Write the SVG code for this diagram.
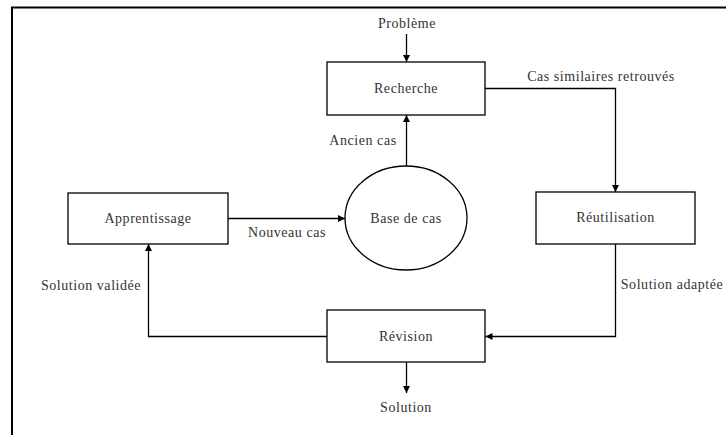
<svg xmlns="http://www.w3.org/2000/svg" width="726" height="435" viewBox="0 0 726 435">
<style>
.box{fill:#fff;stroke:#000;stroke-width:1.3}
.t{font-family:"Liberation Serif","Times New Roman",serif;font-size:14px;letter-spacing:0.55px;fill:#333}
.m{text-anchor:middle}
.c{fill:none;stroke:#000;stroke-width:1.3}
</style>
<defs>
<marker id="ah" viewBox="0 0 10 10" refX="10" refY="5" markerWidth="7" markerHeight="7" markerUnits="userSpaceOnUse" orient="auto">
<path d="M0,0 L10,5 L0,10 z" fill="#000"/>
</marker>
</defs>
<rect width="726" height="435" fill="#fff"/>
<path d="M12,435 V7.5 H726" fill="none" stroke="#000" stroke-width="2"/>
<g id="connectors">
<path class="c" d="M406.5,34 V62" marker-end="url(#ah)"/>
<path class="c" d="M485,88.5 H615.5 V192" marker-end="url(#ah)"/>
<path class="c" d="M406.5,166 V115" marker-end="url(#ah)"/>
<path class="c" d="M228,218.5 H345" marker-end="url(#ah)"/>
<path class="c" d="M615.5,244 V336.5 H485.5" marker-end="url(#ah)"/>
<path class="c" d="M327,336.5 H148.5 V244" marker-end="url(#ah)"/>
<path class="c" d="M406.5,362 V393" marker-end="url(#ah)"/>
<text class="t m" x="407" y="28">Problème</text>
<text class="t m" x="601" y="81">Cas similaires retrouvés</text>
<text class="t m" x="363" y="145">Ancien cas</text>
<text class="t m" x="287" y="237">Nouveau cas</text>
<text class="t m" x="91" y="290">Solution validée</text>
<text class="t m" x="672" y="289">Solution adaptée</text>
<text class="t m" x="406" y="412">Solution</text>
</g>
<g id="recherche">
<rect class="box" x="327" y="62" width="158" height="53"/>
<text class="t m" x="406" y="93">Recherche</text>
</g>
<g id="base">
<ellipse class="box" cx="406" cy="218" rx="61" ry="52"/>
<text class="t m" x="406" y="223">Base de cas</text>
</g>
<g id="apprentissage">
<rect class="box" x="68" y="193" width="160" height="51"/>
<text class="t m" x="148" y="223">Apprentissage</text>
</g>
<g id="reutilisation">
<rect class="box" x="536" y="192" width="159" height="52"/>
<text class="t m" x="615.5" y="222">Réutilisation</text>
</g>
<g id="revision">
<rect class="box" x="327" y="310" width="158" height="52"/>
<text class="t m" x="406" y="341">Révision</text>
</g>
</svg>
